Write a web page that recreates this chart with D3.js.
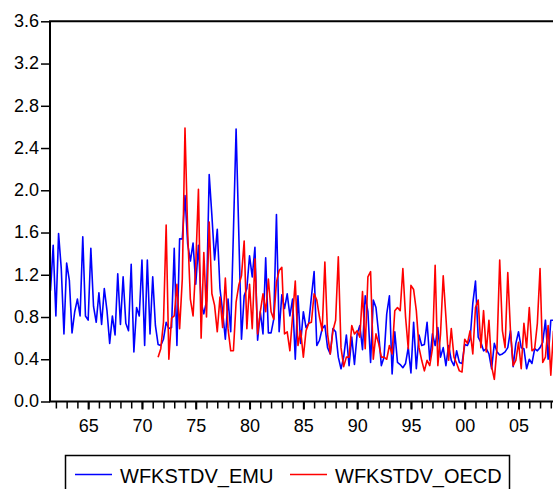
<!DOCTYPE html>
<html>
<head>
<meta charset="utf-8">
<script src="https://cdn.jsdelivr.net/npm/d3@7"></script>
<style>
  html, body { margin: 0; padding: 0; background: #fff; }
  svg { display: block; }
  text { font-family: "Liberation Sans", Arial, sans-serif; fill: #000; }
</style>
</head>
<body>
<svg id="chart" width="553" height="489"></svg>
<script>
// ---- data ----
const seriesNames = ["WFKSTDV_EMU", "WFKSTDV_OECD"];
const seriesColors = ["#0000ff", "#ff0000"];
const emuStart = [1961, 3];   // year, quarter
const oecdStart = [1971, 3];
const emu = [
  1.05,1.48,0.81,1.59,1.26,0.64,1.31,1.15,0.65,0.85,0.97,0.81,1.56,0.81,0.77,1.45,
  0.90,0.75,1.03,0.73,1.07,0.86,0.55,0.81,0.63,1.21,0.73,1.18,0.74,0.67,1.30,0.47,
  0.89,0.81,1.34,0.53,1.34,0.64,1.18,0.72,0.54,0.53,0.59,0.75,0.69,0.70,1.45,0.53,
  1.54,1.54,1.95,1.49,1.33,1.50,1.11,1.48,0.94,0.83,0.95,2.15,1.76,1.34,1.63,1.07,
  0.85,0.59,0.97,0.66,1.60,2.58,1.59,0.59,1.00,1.07,1.38,1.18,1.46,0.58,0.85,0.64,
  1.36,0.65,0.65,0.78,1.77,0.66,1.01,0.88,1.02,0.81,0.97,0.40,1.00,0.55,0.85,0.70,
  0.74,0.99,1.23,0.53,0.58,0.69,0.72,0.51,0.45,0.69,0.66,0.42,0.31,0.42,0.63,0.34,
  0.61,0.35,0.64,0.72,0.49,1.00,0.85,0.37,0.96,0.89,0.64,0.34,0.42,0.83,1.00,0.26,
  0.66,0.37,0.35,0.32,0.36,0.51,0.27,0.75,0.31,0.63,0.53,0.54,0.75,0.39,0.64,0.53,
  0.70,0.42,0.51,0.34,0.53,0.39,0.34,0.48,0.37,0.36,0.54,0.53,0.59,0.93,1.14,0.61,
  0.56,0.48,0.50,0.45,0.31,0.55,0.47,0.44,0.45,0.47,0.51,0.67,0.33,0.55,0.66,0.51,
  0.50,0.31,0.40,0.36,0.50,0.48,0.51,0.56,0.77,0.40,0.77,0.77
];
const oecd = [
  0.42,0.50,0.75,1.67,0.40,0.79,0.81,1.11,0.69,1.16,2.59,1.60,0.97,0.81,1.29,2.01,
  0.60,1.41,0.80,1.70,1.02,0.91,0.66,0.99,0.70,1.17,0.69,0.48,0.48,0.94,1.10,1.19,
  1.52,0.69,1.11,0.69,1.35,0.64,0.85,1.02,0.85,1.16,0.85,0.78,1.13,1.24,1.27,0.64,
  0.66,0.48,0.81,1.14,0.53,0.67,0.42,0.67,0.74,0.75,1.02,0.96,0.80,0.67,1.32,0.64,
  0.45,0.67,0.77,1.37,0.51,0.33,0.42,0.42,0.72,0.64,0.67,0.61,1.04,0.50,1.18,1.23,
  0.40,0.64,0.55,0.42,0.42,0.40,0.53,0.45,0.86,0.89,0.86,1.26,0.80,0.50,1.10,1.06,
  0.86,0.51,0.39,0.29,0.39,0.34,0.50,1.29,0.34,0.64,1.19,0.80,0.39,0.69,0.42,0.36,
  0.29,0.28,0.59,0.55,0.67,0.45,0.89,0.96,0.51,0.86,0.47,0.77,0.33,0.21,0.51,1.34,
  0.67,0.51,1.22,0.67,0.34,0.39,0.56,0.31,0.74,0.51,0.89,0.48,0.50,0.74,1.26,0.37,
  0.42,0.72,0.25,0.67
];
const yTicks = [0.0,0.4,0.8,1.2,1.6,2.0,2.4,2.8,3.2,3.6];
const xMajorTicks = [1965,1970,1975,1980,1985,1990,1995,2000,2005];
const xMajorLabels = ["65","70","75","80","85","90","95","00","05"];
const xMinorTicks = d3.range(1962, 2009);

// ---- layout ----
const svg = d3.select("#chart");
const plotLeft = 50, plotRight = 553.5, plotTop = 21.3, plotBottom = 401.5;

const x = d3.scaleLinear().domain([1961.5, 2008.25]).range([50.5, 553.5]);
const y = d3.scaleLinear().domain([0, 3.6]).range([plotBottom, plotTop]);

function toPoints(vals, start) {
  const t0 = start[0] + (start[1] - 1) / 4;
  return vals.map((v, i) => ({ t: t0 + i * 0.25, v }));
}
const data = [toPoints(emu, emuStart), toPoints(oecd, oecdStart)];

svg.append("defs").append("clipPath").attr("id", "clip")
  .append("rect").attr("x", plotLeft).attr("y", plotTop - 1)
  .attr("width", 560 - plotLeft).attr("height", plotBottom - plotTop + 2);

// series
const line = d3.line().x(d => x(d.t)).y(d => y(d.v));
const g = svg.append("g").attr("clip-path", "url(#clip)");
data.forEach((pts, k) => {
  g.append("path").datum(pts)
    .attr("d", line)
    .attr("fill", "none")
    .attr("stroke", seriesColors[k])
    .attr("stroke-width", 1.6)
    .attr("stroke-linejoin", "round");
});

// Y axis
const yAxis = svg.append("g").attr("transform", `translate(${plotLeft},0)`)
  .call(d3.axisLeft(y).tickValues(yTicks).tickFormat(d3.format(".1f")).tickSize(9).tickPadding(2));
yAxis.select(".domain").remove();
yAxis.selectAll("line").attr("stroke", "#000").attr("stroke-width", 1.5);
yAxis.selectAll("text").attr("font-size", 18).attr("font-family", '"Liberation Sans", Arial, sans-serif').attr("dy", "0.3em");

// X axis: minor yearly ticks
const xMinor = svg.append("g").attr("transform", `translate(0,${plotBottom})`)
  .call(d3.axisBottom(x).tickValues(xMinorTicks).tickFormat("").tickSize(7));
xMinor.select(".domain").remove();
xMinor.selectAll("line").attr("stroke", "#000").attr("stroke-width", 1.5);

// X axis: major ticks with labels
const xMajor = svg.append("g").attr("transform", `translate(0,${plotBottom})`)
  .call(d3.axisBottom(x).tickValues(xMajorTicks).tickFormat((d, i) => xMajorLabels[i]).tickSize(8).tickPadding(10));
xMajor.select(".domain").remove();
xMajor.selectAll("line").attr("stroke", "#000").attr("stroke-width", 2);
xMajor.selectAll("text").attr("font-size", 18).attr("font-family", '"Liberation Sans", Arial, sans-serif');

// frame
svg.append("path")
  .attr("d", `M${plotRight + 5},${plotTop} H${plotLeft} V${plotBottom} H${plotRight + 5}`)
  .attr("fill", "none").attr("stroke", "#000").attr("stroke-width", 2);

// legend
const lg = svg.append("g");
lg.append("rect").attr("x", 65.5).attr("y", 455.5).attr("width", 444).attr("height", 45)
  .attr("fill", "#fff").attr("stroke", "#000").attr("stroke-width", 1.5);
const legendX = [75, 290];
seriesNames.forEach((name, k) => {
  lg.append("line").attr("x1", legendX[k]).attr("x2", legendX[k] + 37)
    .attr("y1", 474.5).attr("y2", 474.5)
    .attr("stroke", seriesColors[k]).attr("stroke-width", 1.6);
  lg.append("text").attr("x", legendX[k] + 45).attr("y", 483)
    .attr("font-size", 20).text(name);
});
</script>
</body>
</html>
